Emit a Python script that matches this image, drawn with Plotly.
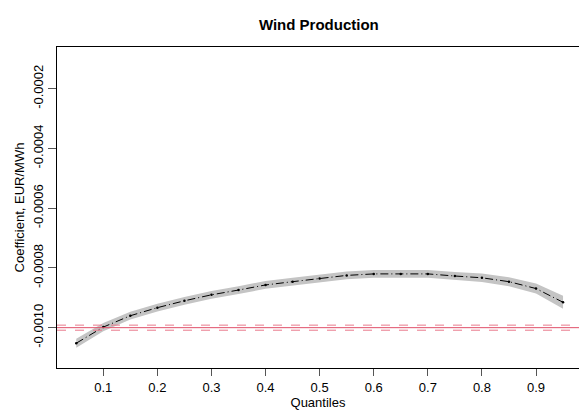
import plotly.graph_objects as go

quantiles = [0.05, 0.10, 0.15, 0.20, 0.25, 0.30, 0.35, 0.40, 0.45, 0.50,
             0.55, 0.60, 0.65, 0.70, 0.75, 0.80, 0.85, 0.90, 0.95]
coef = [-0.001052, -0.000998, -0.000960, -0.000933, -0.000910, -0.000890,
        -0.000874, -0.000857, -0.000846, -0.000835, -0.000825, -0.000820,
        -0.000820, -0.000820, -0.000827, -0.000833, -0.000846, -0.000869,
        -0.000915]
half_width = [0.000015, 0.000014, 0.000013, 0.000013, 0.000013, 0.000013,
              0.000013, 0.000013, 0.000013, 0.000013, 0.000013, 0.000013,
              0.000013, 0.000013, 0.000013, 0.000014, 0.000015, 0.000017,
              0.000022]
ols_coef = -0.001000
ols_low = -0.0010085
ols_high = -0.0009915

x_ticks = [0.1, 0.2, 0.3, 0.4, 0.5, 0.6, 0.7, 0.8, 0.9]
y_ticks = [-0.0010, -0.0008, -0.0006, -0.0004, -0.0002]
y_ticktext = ["-0.0010", "-0.0008", "-0.0006", "-0.0004", "-0.0002"]

upper = [c + h for c, h in zip(coef, half_width)]
lower = [c - h for c, h in zip(coef, half_width)]

FONT = "Liberation Sans, Arial, sans-serif"

fig = go.Figure()
fig.add_trace(go.Scatter(
    x=quantiles + quantiles[::-1], y=upper + lower[::-1],
    fill="toself", fillcolor="#C4C4C4", line=dict(width=0),
    mode="lines", hoverinfo="skip", showlegend=False))
fig.add_trace(go.Scatter(
    x=quantiles, y=coef, mode="lines+markers",
    line=dict(color="black", width=1, dash="8px,3px,1px,3px"),
    marker=dict(color="black", size=2.5, symbol="circle"),
    showlegend=False))

for yv, dash, col in [(ols_high, "dash", "#E8798B"),
                      (ols_low, "dash", "#E8798B"),
                      (ols_coef, "solid", "#E0506A")]:
    fig.add_shape(type="line", xref="paper", x0=0, x1=1, yref="y",
                  y0=yv, y1=yv, layer="above",
                  line=dict(color=col, width=1, dash=dash))

fig.update_layout(
    width=579, height=414,
    margin=dict(l=57, r=0, t=47, b=46),
    plot_bgcolor="white", paper_bgcolor="white",
    font=dict(family=FONT, size=13, color="black"),
    title=dict(text="<b>Wind Production</b>", x=0.5507, xanchor="center",
               y=0.94, yanchor="middle", font=dict(size=15, family=FONT)),
    xaxis=dict(range=[0.0144, 0.9795], tickvals=x_ticks,
               ticktext=[str(v) for v in x_ticks],
               showline=True, linecolor="black", linewidth=1, mirror=True,
               ticks="outside", ticklen=7, tickcolor="#555555",
               showgrid=False, zeroline=False,
               title=dict(text="Quantiles", standoff=4,
                          font=dict(size=13))),
    yaxis=dict(range=[-0.001135, -0.0000604], tickvals=y_ticks,
               ticktext=y_ticktext, tickangle=-90,
               showline=True, linecolor="black", linewidth=1, mirror=False,
               ticks="outside", ticklen=8, tickcolor="#555555",
               showgrid=False, zeroline=False,
               title=dict(text="Coefficient, EUR/MWh", standoff=3,
                          font=dict(size=13))),
)
fig.write_html("out.html")
